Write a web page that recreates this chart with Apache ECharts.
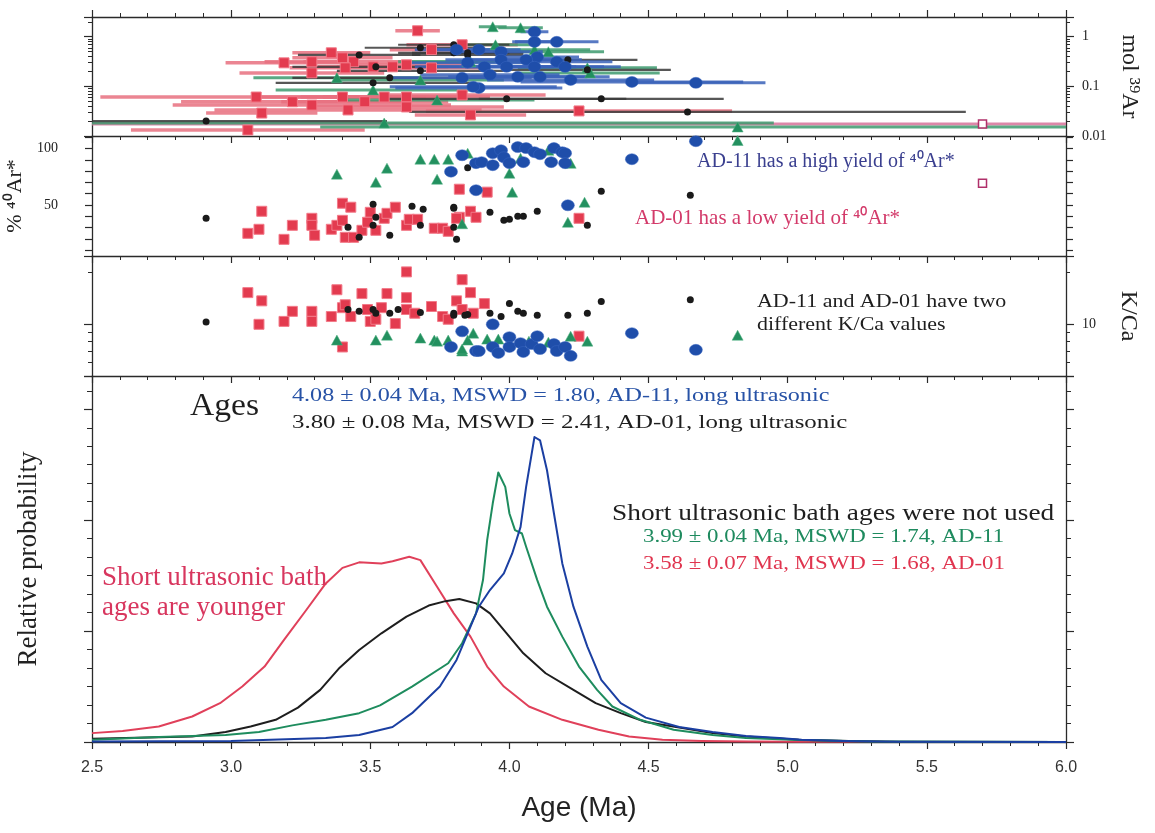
<!DOCTYPE html>
<html><head><meta charset="utf-8">
<script src="https://cdn.jsdelivr.net/npm/echarts@6/dist/echarts.min.js"></script>
<style>html,body{margin:0;padding:0;background:#fff}#c{width:1155px;height:833px}</style>
</head><body><div id="c"></div>
<script>
// ---------------- DATA ----------------
const AGE_MIN = 2.5, AGE_MAX = 6.0;

// Panel 1: [age (Ma), mol 39Ar, age error (Ma)]
const molRed = [[3.67,1.32,0.08],[3.83,0.69,0.20],[3.72,0.55,0.15],[3.36,0.475,0.14],[3.29,0.313,0.17],
  [3.19,0.298,0.21],[3.40,0.376,0.18],[3.44,0.313,0.18],[3.41,0.236,0.20],[3.29,0.187,0.26],[3.51,0.248,0.20],
  [3.58,0.248,0.20],[3.63,0.272,0.20],[3.72,0.236,0.20],[3.09,0.061,0.56],[3.22,0.049,0.40],[3.29,0.042,0.50],
  [3.40,0.061,0.30],[3.48,0.049,0.30],[3.55,0.061,0.30],[3.63,0.061,0.30],[3.63,0.0385,0.35],[3.42,0.0335,0.48],
  [3.11,0.029,0.20],[3.83,0.067,0.30],[3.86,0.0266,0.20],[3.06,0.0132,0.42],[4.25,0.032,0.55]];
const molBlack = [[3.80,0.69,0.20],[3.68,0.60,0.20],[3.85,0.43,0.20],[3.46,0.43,0.22],[3.52,0.248,0.30],
  [3.68,0.206,0.30],[3.57,0.149,0.35],[3.51,0.118,0.35],[3.80,0.475,0.20],[3.85,0.475,0.20],[4.21,0.343,0.25],
  [4.28,0.216,0.30],[3.99,0.056,0.43],[4.33,0.056,0.44],[4.64,0.0305,1.00],[2.91,0.020,0.65]];
const molGreen = [[3.94,1.59,0.05],[4.04,1.52,0.08],[3.95,0.69,0.15],[4.14,0.50,0.20],[4.09,0.55,0.20],
  [3.86,0.313,0.25],[4.28,0.236,0.25],[4.29,0.187,0.25],[3.85,0.313,0.25],[3.68,0.135,0.30],[3.38,0.149,0.30],
  [3.74,0.053,0.35],[3.51,0.085,0.35],[3.55,0.0183,1.40],[4.82,0.0152,1.50]];
const molBlue = [[4.09,1.26,0.05],[4.09,0.79,0.08],[4.17,0.79,0.15],[3.89,0.55,0.15],[3.97,0.50,0.15],
  [4.10,0.39,0.15],[3.97,0.343,0.20],[4.06,0.343,0.20],[4.17,0.313,0.20],[3.91,0.248,0.25],[3.99,0.248,0.25],
  [4.09,0.248,0.25],[4.20,0.248,0.20],[3.93,0.171,0.25],[4.03,0.156,0.25],[4.11,0.156,0.25],[4.22,0.135,0.30],
  [4.44,0.123,0.40],[4.67,0.118,0.25],[3.89,0.093,0.30],[3.83,0.149,0.25],[3.81,0.55,0.15],[3.87,0.098,0.30],
  [3.85,0.30,0.20]];
const molExcluded = [[5.70,0.0175,3.5]];

// Panel 2: [age (Ma), % 40Ar*]
const pctRed = [[3.06,25.0],[3.10,28.6],[3.11,44.5],[3.19,19.7],[3.22,32.1],[3.29,38.3],[3.29,32.1],[3.30,23.3],
  [3.36,28.6],[3.40,51.6],[3.43,48.1],[3.38,32.1],[3.40,36.5],[3.41,21.5],[3.44,21.5],[3.47,27.7],[3.50,43.6],
  [3.49,34.8],[3.52,27.7],[3.55,38.3],[3.56,42.7],[3.59,48.1],[3.63,32.1],[3.64,37.4],[3.67,37.4],[3.73,29.5],
  [3.76,29.5],[3.78,26.8],[3.82,64.0],[3.82,39.2],[3.86,44.5],[3.88,39.2],[3.92,61.4],[4.25,38.3],[3.81,38.3]];
const pctBlack = [[2.91,38.3],[3.51,50.7],[3.52,39.2],[3.42,30.4],[3.51,32.1],[3.46,21.5],[3.57,23.3],[3.65,48.9],
  [3.69,46.3],[3.68,32.1],[3.80,48.1],[3.80,30.4],[3.81,19.7],[3.85,83.0],[3.80,47.2],[3.93,43.6],[3.98,36.5],
  [4.00,37.4],[4.03,40.1],[4.05,40.1],[4.10,44.5],[4.33,62.2],[4.65,58.7],[4.28,32.1]];
const pctGreen = [[3.38,77.3],[3.52,70.2],[3.56,82.6],[3.68,90.5],[3.73,90.5],[3.78,90.5],[3.74,72.8],[3.83,33.5],
  [3.85,95.8],[4.00,78.1],[4.01,61.4],[4.21,34.8],[4.27,52.5],[4.22,86.9],[4.14,98.4],[4.04,91.3],[4.82,107.0]];
const pctBlue = [[3.83,94.0],[3.79,79.5],[3.88,87.0],[3.88,63.1],[3.90,87.9],[3.94,95.8],[3.97,98.4],[3.98,92.2],
  [3.94,85.2],[4.00,87.0],[4.03,101.2],[4.06,100.3],[4.09,96.7],[4.11,94.9],[4.16,100.3],[4.19,96.7],[4.20,95.8],
  [4.15,87.9],[4.20,87.0],[4.05,87.9],[4.21,49.8],[4.44,90.5],[4.67,106.4]];
const pctExcluded = [[5.70,69.3]];

// Panel 3: [age (Ma), K/Ca]
const kcaRed = [[3.06,15.3],[3.10,10.0],[3.11,13.7],[3.19,10.4],[3.22,11.9],[3.29,11.9],[3.29,10.4],[3.36,11.1],
  [3.38,15.9],[3.40,12.5],[3.41,13.0],[3.43,11.1],[3.47,15.1],[3.49,12.2],[3.50,10.4],[3.52,10.7],[3.54,12.5],
  [3.56,15.1],[3.59,10.1],[3.63,20.2],[3.63,14.3],[3.63,12.2],[3.66,11.6],[3.72,12.7],[3.76,11.1],[3.78,10.7],
  [3.81,13.7],[3.83,18.2],[3.83,12.2],[3.86,15.3],[3.87,11.6],[3.91,13.2],[3.40,7.38],[4.25,8.53]];
const kcaBlack = [[2.91,10.3],[3.42,12.2],[3.46,11.9],[3.51,12.2],[3.52,11.6],[3.57,11.6],[3.60,12.2],[3.68,11.7],
  [3.80,11.6],[3.85,11.4],[3.80,11.3],[3.84,11.3],[3.93,11.6],[4.00,13.2],[3.97,11.1],[4.03,11.9],[4.05,11.6],
  [4.10,11.3],[4.21,11.3],[4.28,11.6],[4.33,13.6],[4.65,13.9]];
const kcaGreen = [[3.38,8.09],[3.52,8.09],[3.56,8.64],[3.68,8.31],[3.73,8.09],[3.74,7.98],[3.78,8.09],[3.83,6.99],
  [3.85,8.09],[3.87,8.88],[3.83,7.18],[3.92,8.2],[3.96,8.2],[4.00,7.67],[4.07,7.98],[4.14,7.87],[4.22,8.53],
  [4.28,7.98],[4.82,8.64]];
const kcaBlue = [[3.83,9.1],[3.79,7.38],[3.88,6.99],[3.89,6.99],[3.94,10.0],[3.94,7.38],[3.96,6.81],[4.00,8.42],
  [4.00,7.38],[4.04,7.77],[4.05,6.90],[4.08,7.67],[4.10,8.53],[4.11,7.18],[4.16,7.67],[4.17,6.99],[4.20,7.38],
  [4.22,6.55],[4.44,8.88],[4.67,7.1]];

// Panel 4: [age (Ma), relative probability]
const probRed = [[2.50,0.08],[2.61,0.10],[2.74,0.14],[2.86,0.23],[2.96,0.35],[3.04,0.50],[3.12,0.68],[3.19,0.92],
  [3.27,1.19],[3.34,1.43],[3.40,1.57],[3.46,1.62],[3.54,1.61],[3.58,1.63],[3.64,1.67],[3.68,1.64],[3.74,1.40],
  [3.80,1.16],[3.86,0.95],[3.92,0.68],[3.98,0.50],[4.07,0.32],[4.19,0.20],[4.32,0.11],[4.43,0.05],[4.55,0.02],
  [4.69,0.01],[4.86,0.005],[5.04,0.003],[5.30,0.004],[5.40,0],[6.00,0]];
const probBlack = [[2.50,0.03],[2.86,0.05],[2.98,0.09],[3.07,0.14],[3.16,0.20],[3.24,0.31],[3.32,0.47],[3.39,0.67],
  [3.46,0.83],[3.54,0.98],[3.63,1.13],[3.71,1.23],[3.77,1.27],[3.82,1.29],[3.88,1.25],[3.93,1.16],[3.99,0.98],
  [4.05,0.80],[4.13,0.62],[4.23,0.47],[4.31,0.35],[4.40,0.26],[4.49,0.18],[4.61,0.13],[4.73,0.08],[4.85,0.05],
  [5.04,0.02],[5.22,0.01],[5.35,0.003],[6.00,0]];
const probGreen = [[2.50,0.02],[2.74,0.045],[2.98,0.063],[3.10,0.09],[3.22,0.15],[3.34,0.20],[3.46,0.26],[3.535,0.33],
  [3.65,0.50],[3.78,0.71],[3.83,0.89],[3.88,1.16],[3.905,1.46],[3.92,1.82],[3.94,2.15],[3.96,2.43],[3.985,2.30],
  [4.00,2.06],[4.02,1.91],[4.045,1.88],[4.06,1.76],[4.10,1.46],[4.135,1.22],[4.19,0.95],[4.25,0.68],[4.315,0.47],
  [4.37,0.32],[4.47,0.20],[4.59,0.11],[4.73,0.063],[4.85,0.036],[5.04,0.018],[5.30,0.005],[6.00,0]];
const probBlue = [[2.50,0.005],[3.00,0.01],[3.34,0.036],[3.46,0.063],[3.58,0.135],[3.65,0.26],[3.75,0.50],
  [3.81,0.74],[3.85,0.98],[3.89,1.22],[3.93,1.37],[3.98,1.52],[4.01,1.70],[4.04,1.94],[4.06,2.30],[4.08,2.60],
  [4.09,2.75],[4.11,2.72],[4.135,2.45],[4.16,2.06],[4.19,1.61],[4.23,1.22],[4.28,0.86],[4.33,0.56],[4.40,0.35],
  [4.49,0.22],[4.61,0.135],[4.73,0.09],[4.85,0.054],[4.97,0.036],[5.05,0.02],[5.20,0.008],[5.40,0.002],[6.00,0]];

// Tick label values
const pctLabels = [50, 100];
const pctTicks = [10,20,30,40,50,60,70,80,90,100,110];

// ---------------- CHART ----------------
const chart = echarts.init(document.getElementById('c'), null, {renderer: 'canvas'});
const AX = '#2a2a2a';
const SERIF = '"Liberation Serif","Times New Roman",serif';
const SANS = '"Liberation Sans",Arial,sans-serif';
const C = {red:'#e33b4f', black:'#1a1a1a', green:'#23905f', blue:'#1f4eaa'};

const grids = [
  {left:92, right:89, top:17, height:119, outerBoundsMode:'none', containLabel:false},
  {left:92, right:89, top:136, height:120, outerBoundsMode:'none', containLabel:false},
  {left:92, right:89, top:256, height:120, outerBoundsMode:'none', containLabel:false},
  {left:92, right:89, top:376, height:366, outerBoundsMode:'none', containLabel:false}
];

function xAx(gridIndex, extra) {
  return Object.assign({
    type:'value', gridIndex, min:AGE_MIN, max:AGE_MAX, interval:0.5,
    axisLine:{show:true, onZero:false, lineStyle:{color:AX, width:1.3}},
    axisTick:{show:true, length:7, lineStyle:{color:AX, width:1.2}},
    minorTick:{show:true, splitNumber:5, length:4, lineStyle:{color:AX, width:1}},
    axisLabel:{show:false}, splitLine:{show:false}, minorSplitLine:{show:false}
  }, extra || {});
}
function yBase(gridIndex, position, extra) {
  return Object.assign({
    gridIndex, position,
    axisLine:{show:true, onZero:false, lineStyle:{color:AX, width:1.3}},
    axisTick:{show:true, length:8, lineStyle:{color:AX, width:1.2}},
    axisLabel:{show:false},
    splitLine:{show:false}, minorSplitLine:{show:false}
  }, extra || {});
}
const logLabelFmt = v => String(+Number(v).toPrecision(3));

const molAxis = pos => yBase(0, pos, {type:'log', logBase:10, min:0.01, max:2.5,
  minorTick:{show:true, splitNumber:9, length:4, lineStyle:{color:AX}}});
const pctAxis = pos => yBase(1, pos, {type:'value', min:5, max:111,
  axisTick:{show:true, length:7, customValues:pctTicks, lineStyle:{color:AX, width:1.2}}});
const kcaAxis = pos => yBase(2, pos, {type:'log', logBase:10, min:5, max:25,
  minorTick:{show:true, splitNumber:9, length:4, lineStyle:{color:AX}}});
const probAxis = pos => yBase(3, pos, {type:'value', min:0, max:3.3, interval:1,
  minorTick:{show:true, splitNumber:6, length:5, lineStyle:{color:AX}}});

const yAxes = [
  molAxis('left'),
  Object.assign(molAxis('right'), {
    axisLabel:{show:true, formatter:logLabelFmt, showMaxLabel:false, showMinLabel:true, margin:16,
      fontFamily:SERIF, fontSize:14, color:'#222'},
    name:'mol \u00B3\u2079Ar', nameLocation:'middle', nameRotate:-90, nameGap:50,
    nameTextStyle:{fontFamily:SERIF, fontSize:24, color:'#222'}
  }),
  Object.assign(pctAxis('left'), {
    axisLabel:{show:true, customValues:pctLabels, margin:34, fontFamily:SERIF, fontSize:14, color:'#222'},
    name:'% \u2074\u2070Ar*', nameLocation:'middle', nameRotate:90, nameGap:52,
    nameTextStyle:{fontFamily:SERIF, fontSize:22, color:'#222'}
  }),
  pctAxis('right'),
  kcaAxis('left'),
  Object.assign(kcaAxis('right'), {
    axisLabel:{show:true, formatter:logLabelFmt, showMaxLabel:false, showMinLabel:false, margin:16,
      fontFamily:SERIF, fontSize:14, color:'#222'},
    name:'K/Ca', nameLocation:'middle', nameRotate:-90, nameGap:50,
    nameTextStyle:{fontFamily:SERIF, fontSize:24, color:'#222'}
  }),
  Object.assign(probAxis('left'), {
    name:'Relative probability', nameLocation:'middle', nameRotate:90, nameGap:50,
    nameTextStyle:{fontFamily:SERIF, fontSize:27, color:'#222'}
  }),
  probAxis('right')
];

const xAxes = [
  xAx(0), xAx(1), xAx(2),
  xAx(3, {axisLabel:{show:true, margin:18, fontFamily:SANS, fontSize:16, color:'#333',
      formatter: v => Number(v).toFixed(1)},
    name:'Age (Ma)', nameLocation:'middle', nameGap:52,
    nameTextStyle:{fontFamily:SANS, fontSize:28, color:'#222'}}),
  xAx(0, {position:'top'})
];

function errBars(data, color, yi, width) {
  return {type:'custom', xAxisIndex:0, yAxisIndex:yi, data, encode:{x:0, y:1}, silent:true, z:2,
    renderItem(params, api) {
      const a = api.value(0), v = api.value(1), e = api.value(2);
      const p1 = api.coord([Math.max(a - e, AGE_MIN), v]);
      const p2 = api.coord([Math.min(a + e, AGE_MAX), v]);
      return {type:'line', shape:{x1:p1[0], y1:p1[1], x2:p2[0], y2:p2[1]},
        style:{stroke:color, lineWidth:width || 2.5, opacity:0.85}};
    }};
}
function pts(data, xi, yi, kind) {
  const s = {type:'scatter', xAxisIndex:xi, yAxisIndex:yi, data, silent:true, z:3, encode:{x:0, y:1}};
  if (kind === 'red') Object.assign(s, {symbol:'rect', symbolSize:10,
    itemStyle:{color:C.red, borderColor:'#f27a89', borderWidth:1, opacity:1}});
  if (kind === 'black') Object.assign(s, {symbol:'circle', symbolSize:7, itemStyle:{color:C.black, opacity:1}});
  if (kind === 'green') Object.assign(s, {symbol:'triangle', symbolSize:[11,10],
    itemStyle:{color:C.green, borderColor:'#4fb080', borderWidth:0.5, opacity:1}});
  if (kind === 'blue') Object.assign(s, {symbol:'circle', symbolSize:[13,11],
    itemStyle:{color:C.blue, borderColor:'#3a66c0', borderWidth:0.5, opacity:1}});
  if (kind === 'hollow') Object.assign(s, {symbol:'rect', symbolSize:8,
    itemStyle:{color:'rgba(255,255,255,1)', borderColor:'#b0306a', borderWidth:1.5, opacity:1}});
  return s;
}
function curve(data, color) {
  return {type:'line', xAxisIndex:3, yAxisIndex:6, data, showSymbol:false, symbol:'none', silent:true,
    smooth:false, lineStyle:{color, width:2, join:'round'}, z:3, animation:false};
}

const series = [
  // panel 1
  errBars(molExcluded, '#d6739a', 1, 3),
  errBars(molRed, '#e8707f', 1, 3.5),
  errBars(molGreen, '#3d9a6e', 1, 3),
  errBars(molBlack, '#3a3a3a', 1, 2.2),
  errBars(molBlue, '#3a62b8', 1, 3),
  pts(molRed.map(d => [d[0], d[1]]), 0, 1, 'red'),
  pts(molGreen.map(d => [d[0], d[1]]), 0, 1, 'green'),
  pts(molBlack.map(d => [d[0], d[1]]), 0, 1, 'black'),
  pts(molBlue.map(d => [d[0], d[1]]), 0, 1, 'blue'),
  pts(molExcluded.map(d => [d[0], d[1]]), 0, 1, 'hollow'),
  // panel 2
  pts(pctRed, 1, 2, 'red'),
  pts(pctBlack, 1, 2, 'black'),
  pts(pctGreen, 1, 2, 'green'),
  pts(pctBlue, 1, 2, 'blue'),
  pts(pctExcluded, 1, 2, 'hollow'),
  // panel 3
  pts(kcaRed, 2, 5, 'red'),
  pts(kcaBlack, 2, 5, 'black'),
  pts(kcaGreen, 2, 5, 'green'),
  pts(kcaBlue, 2, 5, 'blue'),
  // panel 4
  curve(probRed, '#e0405a'),
  curve(probBlack, '#1e1e1e'),
  curve(probGreen, '#1e8c5e'),
  curve(probBlue, '#1b3fa2')
];

function txt(text, x, y, size, color, scaleX, lineHeight) {
  return {type:'text', x, y, scaleX: scaleX || 1, silent:true, z:10,
    style:{text, fill:color, font: size + 'px ' + SERIF, textVerticalAlign:'middle', verticalAlign:'middle',
      lineHeight: lineHeight || size}};
}
const graphics = [
  txt('AD-11 has a high yield of \u2074\u2070Ar*', 697, 162, 20, '#3a3f8f', 1.0),
  txt('AD-01 has a low yield of \u2074\u2070Ar*', 635, 218, 21, '#d33a6a', 1.0),
  txt('AD-11 and AD-01 have two\ndifferent K/Ca values', 757, 314, 18, '#1e1e1e', 1.22, 23),
  txt('Ages', 190, 407, 32, '#1e1e1e', 1.05),
  txt('4.08 \u00B1 0.04 Ma, MSWD = 1.80, AD-11, long ultrasonic', 292, 396, 19, '#2752a6', 1.27),
  txt('3.80 \u00B1 0.08 Ma, MSWD = 2.41, AD-01, long ultrasonic', 292, 423, 19, '#1e1e1e', 1.31),
  txt('Short ultrasonic bath ages were not used', 612, 514, 24, '#1e1e1e', 1.14),
  txt('3.99 \u00B1 0.04 Ma, MSWD = 1.74, AD-11', 643, 537, 18, '#1e8a5e', 1.27),
  txt('3.58 \u00B1 0.07 Ma, MSWD = 1.68, AD-01', 643, 564, 18, '#e0354f', 1.27),
  txt('Short ultrasonic bath\nages are younger', 102, 593, 27, '#d8365e', 1.0, 30)
];

chart.setOption({
  backgroundColor:'#ffffff',
  animation:false,
  grid: grids,
  xAxis: xAxes,
  yAxis: yAxes,
  series,
  graphic: graphics
});
</script>
</body></html>
